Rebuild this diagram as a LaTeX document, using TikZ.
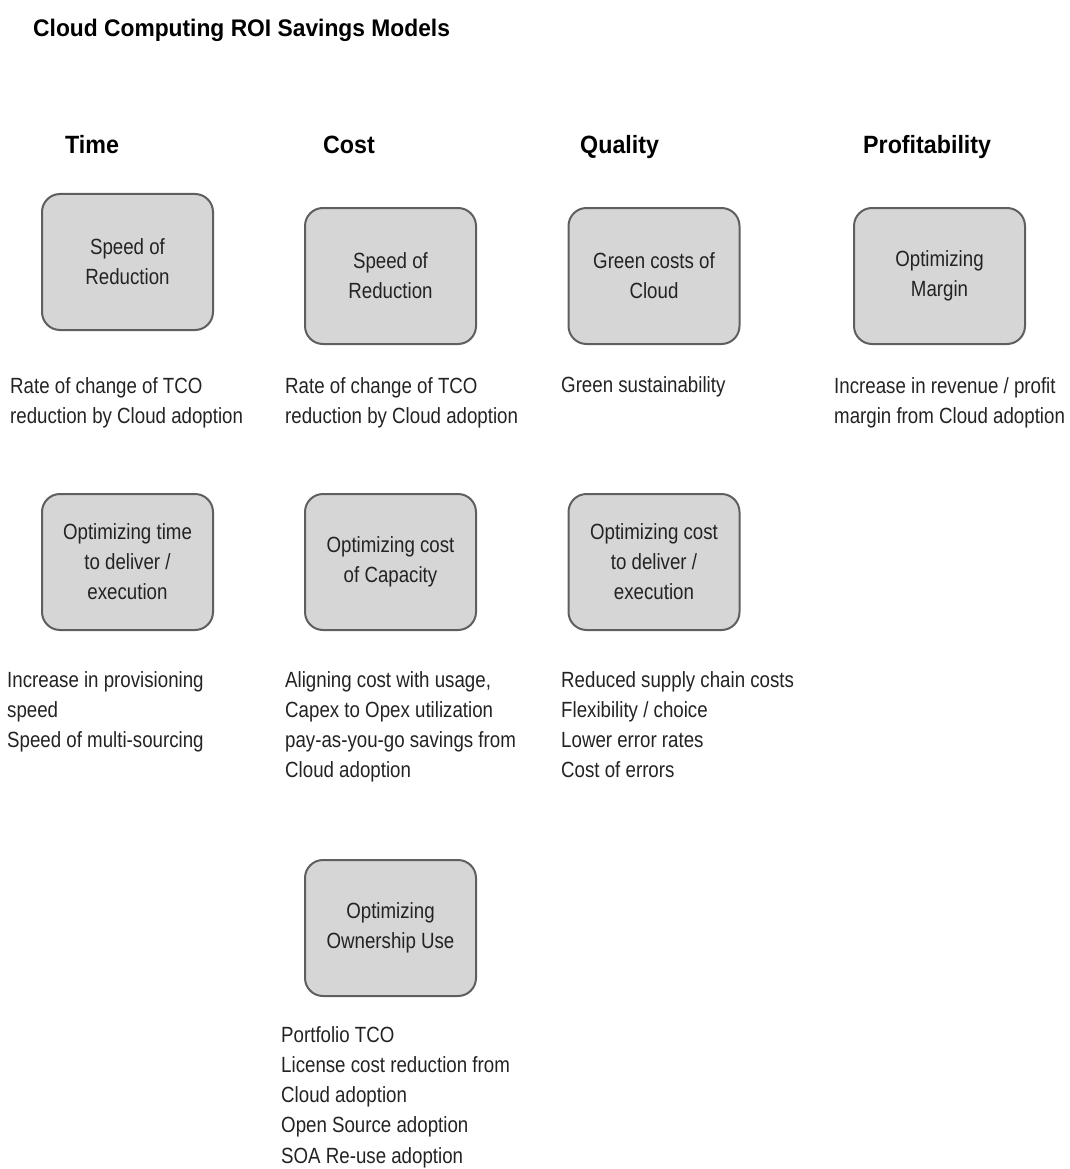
\documentclass[tikz,border=0pt]{standalone}
\usepackage{fontspec}
\setmainfont{Liberation Sans}
\newfontfamily\narrowsf[FakeStretch=0.85]{Liberation Sans}
\newfontfamily\headsf[FakeStretch=0.93]{Liberation Sans}
\newfontfamily\titlesf[FakeStretch=0.95]{Liberation Sans}
\definecolor{boxfill}{RGB}{214,214,214}
\definecolor{boxline}{RGB}{95,95,95}
\definecolor{bodytext}{RGB}{35,35,35}
\begin{document}
\begin{tikzpicture}[x=1pt,y=-1pt,
  titletext/.style={anchor=base west,inner sep=0pt,font=\titlesf\bfseries\fontsize{24}{28}\selectfont},
  headtext/.style={anchor=base west,inner sep=0pt,font=\headsf\bfseries\fontsize{25}{30}\selectfont},
  model/.style={draw=boxline,fill=boxfill,line width=2pt,rounded corners=18pt,
    minimum width=171pt,minimum height=136pt,inner sep=0pt,align=center,
    text=bodytext,font=\narrowsf\fontsize{22}{30}\selectfont},
  % notes are anchored at the baseline of their last line
  note/.style={anchor=base west,inner sep=0pt,align=left,text=bodytext,
    font=\narrowsf\fontsize{22}{30.3}\selectfont}]
\useasboundingbox (0,0) rectangle (1069,1169);

% title and column headings
\node[titletext] (title) at (33,37) {Cloud Computing ROI Savings Models};
\node[headtext] (hTime) at (65,154) {Time};
\node[headtext] (hCost) at (323,154) {Cost};
\node[headtext] (hQuality) at (580,154) {Quality};
\node[headtext] (hProfit) at (863,154) {Profitability};

% first row of models
\node[model] (t1) at (127.5,262) {Speed of\\Reduction};
\node[model] (c1) at (390.5,276) {Speed of\\Reduction};
\node[model] (q1) at (654,276) {Green costs of\\Cloud};
\node[model] (p1) at (939.5,276) {Optimizing\\Margin};

\node[note] (t1n) at (10,423.3) {Rate of change of TCO\\reduction by Cloud adoption};
\node[note] (c1n) at (285,423.3) {Rate of change of TCO\\reduction by Cloud adoption};
\node[note] (q1n) at (561,392) {Green sustainability};
\node[note] (p1n) at (834,423.3) {Increase in revenue / profit\\margin from Cloud adoption};

% second row of models
\node[model] (t2) at (127.5,562) {Optimizing time\\to deliver /\\execution};
\node[model] (c2) at (390.5,562) {Optimizing cost\\of Capacity};
\node[model] (q2) at (654,562) {Optimizing cost\\to deliver /\\execution};

\node[note] (t2n) at (7,747.6) {Increase in provisioning\\speed\\Speed of multi-sourcing};
\node[note] (c2n) at (285,777.9) {Aligning cost with usage,\\Capex to Opex utilization\\pay-as-you-go savings from\\Cloud adoption};
\node[note] (q2n) at (561,777.9) {Reduced supply chain costs\\Flexibility / choice\\Lower error rates\\Cost of errors};

% third row
\node[model] (c3) at (390.5,928) {Optimizing\\Ownership Use};
\node[note] (c3n) at (281,1163.2) {Portfolio TCO\\License cost reduction from\\Cloud adoption\\Open Source adoption\\SOA Re-use adoption};
\end{tikzpicture}
\end{document}
